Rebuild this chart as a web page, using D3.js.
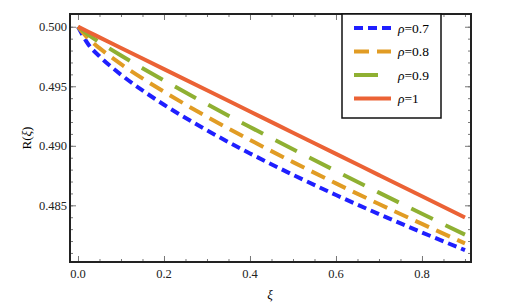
<!DOCTYPE html>
<html>
<head>
<meta charset="utf-8">
<script src="https://cdn.jsdelivr.net/npm/d3@7"></script>
<style>
body { margin: 0; background: #fff; }
svg { display: block; }
text { font-family: "Liberation Serif", "Times New Roman", "DejaVu Serif", serif; }
</style>
</head>
<body>
<svg></svg>
<script>
// R(xi) for several rho

var xi = [0, 0.025, 0.05, 0.1, 0.15, 0.2, 0.3, 0.4, 0.5, 0.6, 0.7, 0.8, 0.9];
var r07 = [0.5, 0.49847, 0.49752, 0.49597, 0.49465, 0.49345, 0.49130, 0.48936, 0.48756, 0.48587, 0.48426, 0.48272, 0.48124];
var r08 = [0.5, 0.49896, 0.49820, 0.49686, 0.49566, 0.49454, 0.49244, 0.49049, 0.48863, 0.48684, 0.48511, 0.48344, 0.48180];
var r09 = [0.5, 0.49930, 0.49870, 0.49758, 0.49652, 0.49549, 0.49350, 0.49158, 0.48971, 0.48788, 0.48607, 0.48429, 0.48254];
var r10 = [0.5, 0.49956, 0.49911, 0.49822, 0.49733, 0.49644, 0.49466, 0.49288, 0.49110, 0.48932, 0.48754, 0.48576, 0.48398];

var labels = ["0.7", "0.8", "0.9", "1"];
var xTicks = [0, 0.2, 0.4, 0.6, 0.8];
var yTicks = [0.485, 0.490, 0.495, 0.500];

var series = [
  {rho: labels[0], values: r07, color: "#1f1fff", dash: "9,5"},
  {rho: labels[1], values: r08, color: "#e19c24", dash: "15,8"},
  {rho: labels[2], values: r09, color: "#8fb032", dash: "24,14"},
  {rho: labels[3], values: r10, color: "#eb6235", dash: null}
];

var svgWidth = 519, svgHeight = 302;
var pLeft = 70, pRight = 471, pTop = 14, pBottom = 262;

var svg = d3.select("svg")
    .attr("width", svgWidth)
    .attr("height", svgHeight);

var x = d3.scaleLinear().domain([-0.0186, 0.914]).range([pLeft, pRight]);
var y = d3.scaleLinear().domain([0.48024, 0.50107]).range([pBottom, pTop]);

svg.append("defs").append("clipPath").attr("id", "clip")
  .append("rect")
    .attr("x", pLeft).attr("y", pTop)
    .attr("width", pRight - pLeft).attr("height", pBottom - pTop);

// minor + major ticks on all four sides, pointing inward
var xMinor = d3.range(0, 0.91, 0.05);
var yMinor = d3.range(0.481, 0.5005, 0.001);

function tickAxis(axis, scale, vals, size, pos) {
  var g = svg.append("g")
      .attr("transform", pos)
      .call(axis(scale).tickValues(vals).tickSize(size).tickFormat(""));
  g.select(".domain").remove();
  g.selectAll("line").attr("stroke", "#777").attr("stroke-width", 1);
  return g;
}

tickAxis(d3.axisBottom, x, xMinor, -3, "translate(0," + pBottom + ")");
tickAxis(d3.axisBottom, x, xTicks, -6, "translate(0," + pBottom + ")");
tickAxis(d3.axisTop, x, xMinor, -3, "translate(0," + pTop + ")");
tickAxis(d3.axisTop, x, xTicks, -6, "translate(0," + pTop + ")");
tickAxis(d3.axisLeft, y, yMinor, -3, "translate(" + pLeft + ",0)");
tickAxis(d3.axisLeft, y, yTicks, -6, "translate(" + pLeft + ",0)");
tickAxis(d3.axisRight, y, yMinor, -3, "translate(" + pRight + ",0)");
tickAxis(d3.axisRight, y, yTicks, -6, "translate(" + pRight + ",0)");

// tick labels
svg.selectAll(".xlab")
  .data(xTicks)
  .enter()
  .append("text")
  .attr("x", function(d) { return x(d); })
  .attr("y", 278)
  .attr("text-anchor", "middle")
  .attr("font-size", 12.5)
  .attr("fill", "#222")
  .text(function(d) { return d3.format(".1f")(d); });

svg.selectAll(".ylab")
  .data(yTicks)
  .enter()
  .append("text")
  .attr("x", 67)
  .attr("y", function(d) { return y(d) + 4.5; })
  .attr("text-anchor", "end")
  .attr("font-size", 12.5)
  .attr("fill", "#222")
  .text(function(d) { return d3.format(".3f")(d); });

// curves
var line = d3.line()
    .x(function(d, i) { return x(xi[i]); })
    .y(function(d) { return y(d); })
    .curve(d3.curveMonotoneX);

svg.append("g").attr("clip-path", "url(#clip)")
  .selectAll("path")
  .data(series)
  .enter()
  .append("path")
  .attr("d", function(s) { return line(s.values); })
  .attr("fill", "none")
  .attr("stroke", function(s) { return s.color; })
  .attr("stroke-width", 4)
  .attr("stroke-dasharray", function(s) { return s.dash; });

// frame
svg.append("rect")
  .attr("x", pLeft).attr("y", pTop)
  .attr("width", pRight - pLeft).attr("height", pBottom - pTop)
  .attr("fill", "none")
  .attr("stroke", "#222")
  .attr("stroke-width", 2);

// axis titles
svg.append("text")
  .attr("x", 270).attr("y", 299)
  .attr("text-anchor", "middle")
  .attr("font-size", 13)
  .attr("font-style", "italic")
  .text("ξ");

var yt = svg.append("text")
  .attr("transform", "translate(31,138) rotate(-90)")
  .attr("text-anchor", "middle")
  .attr("font-size", 13);
yt.append("tspan").text("R(");
yt.append("tspan").attr("font-style", "italic").text("ξ");
yt.append("tspan").text(")");

// legend
var lg = svg.append("g");
lg.append("rect")
  .attr("x", 342).attr("y", 14)
  .attr("width", 99).attr("height", 104)
  .attr("fill", "#fff")
  .attr("stroke", "#111")
  .attr("stroke-width", 1.5);

var item = lg.selectAll(".item")
  .data(series)
  .enter()
  .append("g")
  .attr("transform", function(d, i) { return "translate(0," + (28 + i * 23.5) + ")"; });

item.append("line")
  .attr("x1", 354).attr("x2", 391)
  .attr("stroke", function(s) { return s.color; })
  .attr("stroke-width", 4)
  .attr("stroke-dasharray", function(s) { return s.dash; });

var t = item.append("text")
  .attr("x", 398).attr("y", 4.5)
  .attr("font-size", 13.5);
t.append("tspan").attr("font-style", "italic").text("ρ");
t.append("tspan").text(function(s) { return "=" + s.rho; });
</script>
</body>
</html>
